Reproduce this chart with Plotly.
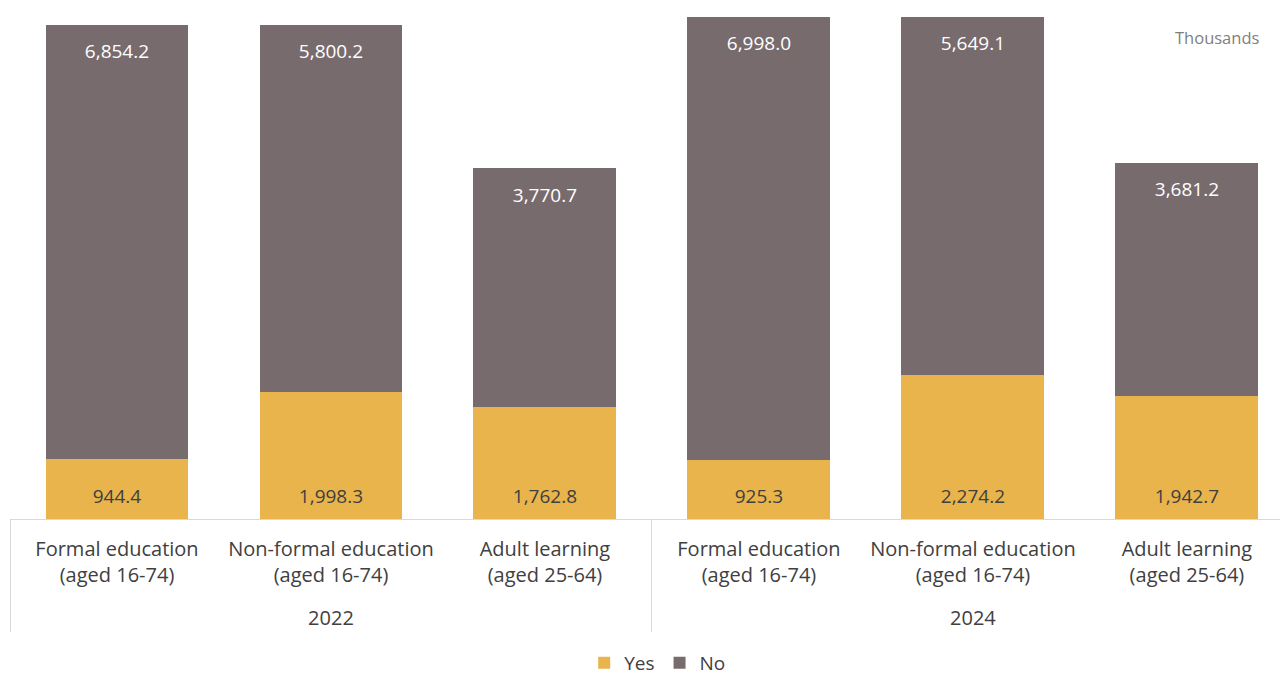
import plotly.graph_objects as go

years = ["2022", "2022", "2022", "2024", "2024", "2024"]
categories = ["Formal education<br>(aged 16-74)", "Non-formal education<br>(aged 16-74)", "Adult learning<br>(aged 25-64)",
              "Formal education<br>(aged 16-74)", "Non-formal education<br>(aged 16-74)", "Adult learning<br>(aged 25-64)"]
yes_vals = [944.4, 1998.3, 1762.8, 925.3, 2274.2, 1942.7]
no_vals = [6854.2, 5800.2, 3770.7, 6998.0, 5649.1, 3681.2]

FONT = "Open Sans"
YES_COLOR = "#E8B44B"
NO_COLOR = "#786B6E"

year_labels = ["<br>" + y for y in years]
x = [year_labels, categories]
totals = [a + b for a, b in zip(yes_vals, no_vals)]

fig = go.Figure()
fig.add_trace(go.Bar(x=x, y=yes_vals, name="Yes", marker=dict(color=YES_COLOR, line=dict(width=0))))
fig.add_trace(go.Bar(x=x, y=no_vals, name="No", marker=dict(color=NO_COLOR, line=dict(width=0))))
# value labels
fig.add_trace(go.Scatter(
    x=x, y=[0] * len(yes_vals), mode="markers+text", showlegend=False, hoverinfo="skip",
    marker=dict(size=17, opacity=0), text=[f"{v:,.1f}" for v in yes_vals],
    textposition="top center", textfont=dict(color="#404040", size=19, family=FONT), cliponaxis=False,
))
fig.add_trace(go.Scatter(
    x=x, y=totals, mode="markers+text", showlegend=False, hoverinfo="skip",
    marker=dict(size=29, opacity=0), text=[f"{v:,.1f}" for v in no_vals],
    textposition="bottom center", textfont=dict(color="#FFFFFF", size=19, family=FONT), cliponaxis=False,
))
fig.update_layout(
    barmode="stack", bargap=0.332,
    width=1280, height=675,
    margin=dict(l=10, r=0, t=12, b=156),
    plot_bgcolor="white", paper_bgcolor="white",
    font=dict(family=FONT, color="#404040", size=19),
    legend=dict(orientation="h", x=0.51, xanchor="center", yref="container", y=0.018, yanchor="middle",
                font=dict(size=19, color="#404040"), traceorder="normal"),
    xaxis=dict(type="multicategory", range=[-0.5, 5.435], showline=True, linecolor="#D9D9D9", linewidth=1,
               showdividers=True, dividercolor="#D9D9D9", dividerwidth=1, automargin=False,
               tickfont=dict(size=20, color="#404040"), tickangle=0, ticks="", ticklabelstandoff=12),
    yaxis=dict(range=[0, 8000], visible=False, showgrid=False),
    annotations=[dict(text="Thousands", xref="paper", yref="paper", x=1, y=1.0,
                      xanchor="right", yanchor="top", showarrow=False,
                      font=dict(size=16.5, color="#808080"), xshift=-19, yshift=-12)],
)
fig.write_html("out.html")
